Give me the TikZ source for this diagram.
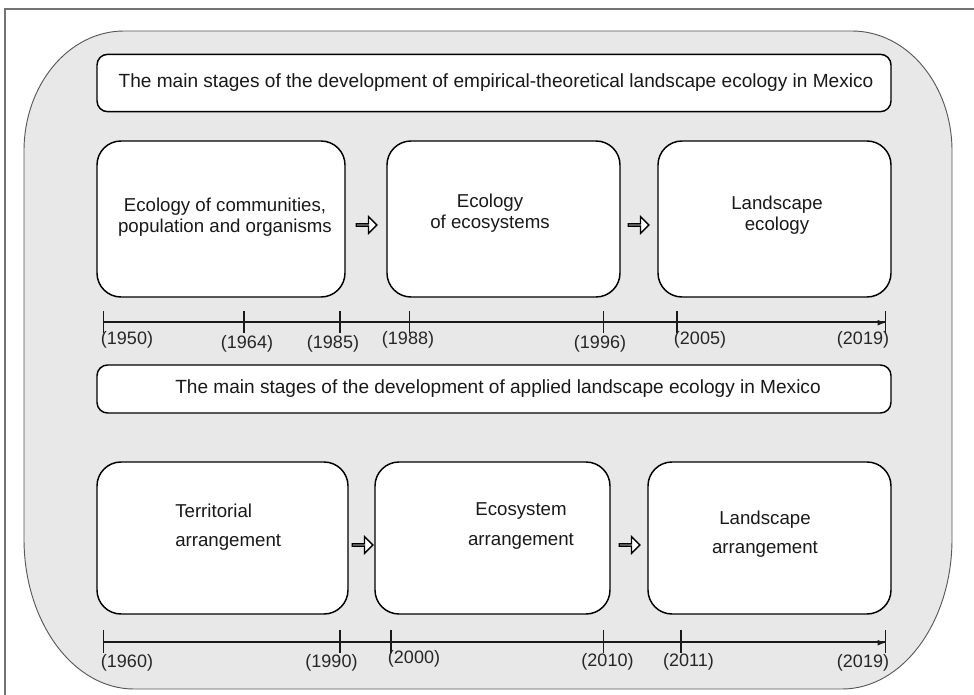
\documentclass[tikz,border=0pt]{standalone}
\usepackage{fontspec}
\setmainfont{Liberation Sans}
\usetikzlibrary{arrows.meta,shapes.arrows}
\begin{document}
\begin{tikzpicture}[x=0.75pt,y=-0.75pt,
  stagebox/.style={draw=black, line width=1.1pt, fill=white, rounded corners=18pt, inner sep=0pt},
  titlebox/.style={draw=black, line width=1.1pt, fill=white, rounded corners=8pt, inner sep=0pt},
  hollow/.style={single arrow, draw=black, line width=1pt, fill=white, minimum height=15.5pt,
     minimum width=12.5pt, single arrow head extend=3.2pt, inner sep=0pt, single arrow tip angle=90},
  yr/.style={font=\fontsize{13.5}{13.5}\selectfont, text=black!85, inner sep=0pt},
  btxt/.style={font=\fontsize{14}{16}\selectfont, align=center, inner sep=0pt, text=black!90},
  btxtb/.style={font=\fontsize{14}{22}\selectfont, align=center, inner sep=0pt, text=black!90},
  ttxt/.style={font=\fontsize{14.3}{14.3}\selectfont, inner sep=0pt, text=black!90},
  tickmark/.style={line width=1.2pt, black!90},
  axis/.style={line width=1pt, black!90},
  frameline/.style={line width=0.8pt, black!55}
]
\useasboundingbox (0,0) rectangle (974,695);
% outer frame (top and left only)
\draw[frameline] (5,695) -- (5,9) -- (974,9);
% big gray rounded shape
\draw[fill=black!9, draw=black!65, line width=0.7pt]
  (124,31) -- (852,31) arc[start angle=-90, end angle=0, x radius=100, y radius=120]
  -- (952,539) arc[start angle=0, end angle=90, x radius=110, y radius=150]
  -- (134,689) arc[start angle=90, end angle=180, x radius=110, y radius=150]
  -- (24,151) arc[start angle=180, end angle=270, x radius=100, y radius=120] -- cycle;

% titles
\node[titlebox, minimum width=595.5pt, minimum height=43pt] (t1) at (494,83) {};
\node[ttxt] (t1txt) at (496,83) {The main stages of the development of empirical-theoretical landscape ecology in Mexico};
\node[titlebox, minimum width=595.5pt, minimum height=36pt] (t2) at (494,389) {};
\node[ttxt] (t2txt) at (498,389) {The main stages of the development of applied landscape ecology in Mexico};

% row 1 boxes
\node[stagebox, minimum width=186pt, minimum height=117pt] (b1) at (221,219) {};
\node[stagebox, minimum width=174.75pt, minimum height=117pt] (b2) at (503.5,219) {};
\node[stagebox, minimum width=174.75pt, minimum height=117pt] (b3) at (774.5,219) {};
\node[btxt] (b1t) at (225,217) {Ecology of communities,\\population and organisms};
\node[btxt] (b2t) at (490,213) {Ecology\\of ecosystems};
\node[btxt] (b3t) at (777,215) {Landscape\\ecology};
\node[hollow] (a1) at (366,225) {};
\node[hollow] (a2) at (638,225) {};

% row 2 boxes
\node[stagebox, minimum width=188.25pt, minimum height=114pt] (c1) at (222.5,538) {};
\node[stagebox, minimum width=176.25pt, minimum height=114pt] (c2) at (492.5,538) {};
\node[stagebox, minimum width=182.25pt, minimum height=114pt] (c3) at (769.5,538) {};
\node[btxtb, align=left, anchor=west] (c1t) at (175,527) {Territorial\\arrangement};
\node[btxtb] (c2t) at (521,526) {Ecosystem\\arrangement};
\node[btxtb] (c3t) at (765,534) {Landscape\\arrangement};
\node[hollow] (a3) at (362,545) {};
\node[hollow] (a4) at (629,545) {};

% timeline 1
\coordinate (s1) at (103.5,322);
\coordinate (m1) at (619,322.7);
\coordinate (e1) at (885.5,322);
\coordinate (e1b) at (885.5,322.7);
\draw[axis] (s1) -- (e1);
\draw[axis, -{Latex[length=6pt,width=4.5pt]}] (m1) -- (e1b);
\foreach \x/\n in {103.5/p1950,243.7/p1964,340/p1985,409.5/p1988,603.5/p1996,677/p2005,885.5/p2019}
  \draw[tickmark] (\x,311) coordinate (\n) -- (\x,333);
\node[yr] (l1950) at (127,340) {(1950)};
\node[yr] (l1964) at (247,344) {(1964)};
\node[yr] (l1985) at (333,344) {(1985)};
\node[yr] (l1988) at (408,340) {(1988)};
\node[yr] (l1996) at (600,344) {(1996)};
\node[yr] (l2005) at (700,340) {(2005)};
\node[yr] (l2019a) at (863,340) {(2019)};

% timeline 2
\coordinate (s2) at (103.5,642);
\coordinate (m2) at (362,642.7);
\coordinate (e2) at (885.5,642);
\coordinate (e2b) at (885.5,642.7);
\draw[axis] (s2) -- (e2);
\draw[axis, -{Latex[length=6pt,width=4.5pt]}] (m2) -- (e2b);
\foreach \x/\n in {103.5/q1960,340/q1990,390.7/q2000,603.5/q2010,681/q2011,885.5/q2019}
  \draw[tickmark] (\x,630) coordinate (\n) -- (\x,653);
\node[yr] (l1960) at (127,663) {(1960)};
\node[yr] (l1990) at (331.5,663) {(1990)};
\node[yr] (l2000) at (414,659) {(2000)};
\node[yr] (l2010) at (607.5,662) {(2010)};
\node[yr] (l2011) at (688.5,662) {(2011)};
\node[yr] (l2019b) at (863,663) {(2019)};
\end{tikzpicture}
\end{document}
